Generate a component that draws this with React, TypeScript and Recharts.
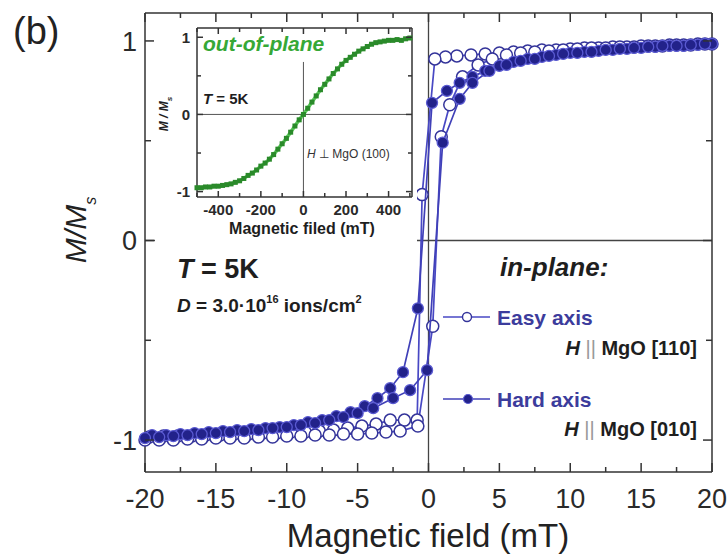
import React from 'react'
import { ScatterChart, Scatter, XAxis, YAxis, ReferenceLine } from 'recharts'

const FONT = '"Liberation Sans", Arial, Helvetica, sans-serif'

// main loops: [field (mT), M/Ms], descending branch then ascending branch
const easyDown: [number, number][] = [
  [20, 0.985], [19, 0.985], [18, 0.98], [17, 0.98], [16, 0.975], [15, 0.975], [14, 0.97],
  [13, 0.97], [12, 0.965], [11, 0.965], [10, 0.96], [9, 0.955], [8, 0.955], [7, 0.95],
  [6, 0.945], [5, 0.94], [4, 0.935], [3, 0.93], [2, 0.925], [1.2, 0.92], [0.45, 0.91],
  [-0.45, 0.23], [-0.8, -0.9], [-1.7, -0.9], [-2.7, -0.9], [-3.7, -0.92], [-4.7, -0.93],
  [-5.7, -0.94], [-6.7, -0.95], [-7.7, -0.955], [-8.7, -0.96], [-9.7, -0.96], [-10.7, -0.965],
  [-11.7, -0.965], [-12.7, -0.97], [-13.7, -0.97], [-14.7, -0.975], [-15.7, -0.975],
  [-16.7, -0.98], [-17.7, -0.98], [-18.7, -0.98], [-19.7, -0.985],
]
const easyUp: [number, number][] = [
  [-20, -1.0], [-19, -1.0], [-18, -1.0], [-17, -0.995], [-16, -0.995], [-15, -0.99],
  [-14, -0.99], [-13, -0.99], [-12, -0.985], [-11, -0.985], [-10, -0.98], [-9, -0.98],
  [-8, -0.975], [-7, -0.975], [-6, -0.97], [-5, -0.97], [-4, -0.965], [-3, -0.96],
  [-2, -0.955], [-0.75, -0.93], [0.3, -0.43], [0.9, 0.52], [1.5, 0.68], [2.4, 0.82],
  [3.5, 0.88], [4.5, 0.91], [5.5, 0.93], [6.5, 0.94], [7.5, 0.945], [8.5, 0.95], [9.5, 0.955],
  [10.5, 0.96], [11.5, 0.965], [12.5, 0.965], [13.5, 0.97], [14.5, 0.97], [15.5, 0.975],
  [16.5, 0.975], [17.5, 0.98], [18.5, 0.98], [19.5, 0.985],
]
const hardDown: [number, number][] = [
  [20, 0.985], [19, 0.98], [18, 0.975], [17, 0.975], [16, 0.97], [15, 0.965], [14, 0.96],
  [13, 0.955], [12, 0.95], [11, 0.945], [10, 0.94], [9, 0.93], [8, 0.92], [7, 0.91],
  [6, 0.895], [5, 0.875], [4, 0.85], [3.1, 0.82], [2.2, 0.79], [1.3, 0.75], [0.25, 0.69],
  [-0.75, -0.34], [-1.8, -0.66], [-2.7, -0.74], [-3.6, -0.79], [-4.5, -0.83], [-5.5, -0.86],
  [-6.5, -0.88], [-7.5, -0.9], [-8.5, -0.91], [-9.5, -0.925], [-10.5, -0.935], [-11.5, -0.94],
  [-12.5, -0.945], [-13.5, -0.95], [-14.5, -0.955], [-15.5, -0.96], [-16.5, -0.965],
  [-17.5, -0.97], [-18.5, -0.975], [-19.5, -0.975],
]
const hardUp: [number, number][] = [
  [-20, -0.99], [-19, -0.985], [-18, -0.98], [-17, -0.975], [-16, -0.97], [-15, -0.965],
  [-14, -0.96], [-13, -0.955], [-12, -0.95], [-11, -0.94], [-10, -0.935], [-9, -0.925],
  [-8, -0.915], [-7, -0.9], [-6, -0.885], [-5, -0.865], [-3.9, -0.84], [-2.5, -0.79],
  [-1.3, -0.75], [-0.1, -0.65], [1.0, 0.49], [2.2, 0.71], [3.1, 0.79], [4.3, 0.85],
  [5.5, 0.88], [6.5, 0.9], [7.5, 0.91], [8.5, 0.925], [9.5, 0.935], [10.5, 0.94],
  [11.5, 0.945], [12.5, 0.955], [13.5, 0.96], [14.5, 0.965], [15.5, 0.97], [16.5, 0.975],
  [17.5, 0.975], [18.5, 0.98], [19.5, 0.985],
]

// inset: out-of-plane loop
const outOfPlane: [number, number][] = [
  [-500, -0.95], [-480, -0.95], [-460, -0.94], [-440, -0.94], [-420, -0.93], [-400, -0.93],
  [-380, -0.92], [-360, -0.91], [-340, -0.9], [-320, -0.88], [-300, -0.86], [-280, -0.83],
  [-260, -0.79], [-240, -0.76], [-220, -0.72], [-200, -0.67], [-180, -0.63], [-160, -0.58],
  [-140, -0.52], [-120, -0.45], [-100, -0.38], [-80, -0.31], [-60, -0.23], [-40, -0.15],
  [-20, -0.07], [0, 0.0], [20, 0.08], [40, 0.16], [60, 0.24], [80, 0.32], [100, 0.39],
  [120, 0.46], [140, 0.53], [160, 0.59], [180, 0.65], [200, 0.7], [220, 0.74], [240, 0.78],
  [260, 0.82], [280, 0.85], [300, 0.88], [320, 0.91], [340, 0.93], [360, 0.94], [380, 0.95],
  [400, 0.96], [420, 0.96], [440, 0.97], [460, 0.96], [480, 0.98], [500, 0.99],
]

const mainXTicks = [-20, -17.5, -15, -12.5, -10, -7.5, -5, -2.5, 0, 2.5, 5, 7.5, 10, 12.5, 15, 17.5, 20]
const mainYTicks = [-1, -0.5, 0, 0.5, 1]
const insetXTicks = [-500, -400, -300, -200, -100, 0, 100, 200, 300, 400, 500]
const insetYTicks = [-1, -0.5, 0, 0.5, 1]

const toPts = (arr: [number, number][]) => arr.map(([h, m]) => ({ h, m }))
const easyData = toPts([...easyDown, ...easyUp])
const hardData = toPts([...hardDown, ...hardUp])
const insetData = toPts(outOfPlane)

type Side = 'bottom' | 'top' | 'left' | 'right'
const tick = (side: Side, step: number, len: number, minor: number, label?: { size: number; off: number; weight: number }) =>
  (p: any) => {
    const { x, y, payload } = p
    const v = payload.value
    const big = Math.abs(v / step - Math.round(v / step)) < 1e-6
    const L = big ? len : minor
    const ln = { stroke: '#333', strokeWidth: 1.5 }
    let line = null
    let txt = null
    if (side === 'bottom') line = <line x1={x} x2={x} y1={y} y2={y - L} {...ln} />
    if (side === 'top') line = <line x1={x} x2={x} y1={y} y2={y + L} {...ln} />
    if (side === 'left') line = <line x1={x} x2={x + L} y1={y} y2={y} {...ln} />
    if (side === 'right') line = <line x1={x} x2={x - L} y1={y} y2={y} {...ln} />
    if (label && big) {
      const common = { fontFamily: FONT, fontSize: label.size, fontWeight: label.weight, fill: '#2a2a2a' }
      if (side === 'bottom') txt = <text x={x} y={y + label.off} textAnchor="middle" {...common}>{String(v)}</text>
      if (side === 'left') txt = <text x={x - label.off} y={y} dy="0.36em" textAnchor="end" {...common}>{String(v)}</text>
    }
    return <g>{line}{txt}</g>
  }

const OpenDot = (p: any) => <circle cx={p.cx} cy={p.cy} r={6} fill="#fff" stroke="#34349a" strokeWidth={1.5} />
const FilledDot = (p: any) => <circle cx={p.cx} cy={p.cy} r={5.5} fill="#22228a" stroke="#5a5ad2" strokeWidth={1.3} />
const GreenSq = (p: any) => <rect x={p.cx - 2.5} y={p.cy - 2.5} width={5} height={5} fill="#2a8a2a" />
const Nothing = () => <g />

const axisLine = { stroke: '#333', strokeWidth: 1.5 }

function MainChart() {
  return (
    <ScatterChart width={728} height={560} margin={{ top: 12, right: 15, bottom: 48, left: 85 }}>
      <XAxis xAxisId="b" type="number" dataKey="h" domain={[-20, 20]} ticks={mainXTicks} interval={0}
        height={40} axisLine={axisLine} tickLine={false} tickSize={0} tickMargin={0}
        tick={tick('bottom', 5, 9, 5, { size: 27, off: 36, weight: 400 })} />
      <XAxis xAxisId="t" orientation="top" type="number" dataKey="h" domain={[-20, 20]} ticks={mainXTicks}
        interval={0} height={1} axisLine={axisLine} tickLine={false} tickSize={0} tickMargin={0}
        tick={tick('top', 5, 9, 5)} />
      <YAxis yAxisId="l" type="number" dataKey="m" domain={[-1.16, 1.14]} ticks={mainYTicks} interval={0}
        width={60} axisLine={axisLine} tickLine={false} tickSize={0} tickMargin={0}
        tick={tick('left', 1, 9, 6, { size: 27, off: 8, weight: 400 })} />
      <YAxis yAxisId="r" orientation="right" type="number" dataKey="m" domain={[-1.16, 1.14]} ticks={mainYTicks}
        interval={0} width={1} axisLine={axisLine} tickLine={false} tickSize={0} tickMargin={0}
        tick={tick('right', 1, 9, 6)} />
      <ReferenceLine xAxisId="b" yAxisId="l" y={0} stroke="#444" strokeWidth={1.3} />
      <ReferenceLine xAxisId="b" yAxisId="l" x={0} stroke="#444" strokeWidth={1.3} />
      <Scatter xAxisId="t" yAxisId="r" data={easyData} shape={Nothing} isAnimationActive={false} />
      <Scatter xAxisId="b" yAxisId="l" data={easyData} line={{ stroke: '#4848c4', strokeWidth: 1.7 }}
        lineType="joint" shape={OpenDot} isAnimationActive={false} />
      <Scatter xAxisId="b" yAxisId="l" data={hardData} line={{ stroke: '#4040b8', strokeWidth: 1.7 }}
        lineType="joint" shape={FilledDot} isAnimationActive={false} />
    </ScatterChart>
  )
}

function InsetChart() {
  return (
    <ScatterChart width={262} height={220} margin={{ top: 4, right: 4, bottom: 45, left: 41 }}>
      <XAxis xAxisId="b" type="number" dataKey="h" domain={[-500, 510]} ticks={insetXTicks} interval={0}
        height={1} axisLine={axisLine} tickLine={false} tickSize={0} tickMargin={0}
        tick={tick('bottom', 200, 6, 4, { size: 15, off: 18, weight: 700 })} />
      <XAxis xAxisId="t" orientation="top" type="number" dataKey="h" domain={[-500, 510]} ticks={insetXTicks}
        interval={0} height={1} axisLine={axisLine} tickLine={false} tickSize={0} tickMargin={0}
        tick={tick('top', 200, 6, 4)} />
      <YAxis yAxisId="l" type="number" dataKey="m" domain={[-1.07, 1.12]} ticks={insetYTicks} interval={0}
        width={1} axisLine={axisLine} tickLine={false} tickSize={0} tickMargin={0}
        tick={tick('left', 1, 6, 4, { size: 15, off: 7, weight: 700 })} />
      <YAxis yAxisId="r" orientation="right" type="number" dataKey="m" domain={[-1.07, 1.12]} ticks={insetYTicks}
        interval={0} width={1} axisLine={axisLine} tickLine={false} tickSize={0} tickMargin={0}
        tick={tick('right', 1, 6, 4)} />
      <ReferenceLine xAxisId="b" yAxisId="l" y={0} stroke="#555" strokeWidth={1} />
      <ReferenceLine xAxisId="b" yAxisId="l" segment={[{ x: 0, y: -1.07 }, { x: 0, y: 0.68 }]} stroke="#555" strokeWidth={1} />
      <Scatter xAxisId="t" yAxisId="r" data={insetData} shape={Nothing} isAnimationActive={false} />
      <Scatter xAxisId="b" yAxisId="l" data={insetData} line={{ stroke: '#5ccc5c', strokeWidth: 3.5 }}
        lineType="joint" shape={GreenSq} isAnimationActive={false} />
    </ScatterChart>
  )
}

function Annotations() {
  const t = { fontFamily: FONT }
  return (
    <svg width={728} height={560} style={{ position: 'absolute', left: 0, top: 0, pointerEvents: 'none' }}>
      <text x={13} y={44} fontSize={38} fill="#222" {...t}>(b)</text>
      <text transform="translate(86,230) rotate(-90)" textAnchor="middle" fontSize={30} fontStyle="italic" fill="#222" {...t}>
        M/M<tspan fontSize={16} dy={10}>s</tspan>
      </text>
      <text x={428} y={547} textAnchor="middle" fontSize={33} fill="#222" {...t}>Magnetic field (mT)</text>

      <text x={177} y={278} fontSize={27} fontWeight={700} fill="#1e1e1e" {...t}>
        <tspan fontStyle="italic">T</tspan> = 5K
      </text>
      <text x={177} y={312} fontSize={19} fontWeight={700} fill="#1e1e1e" {...t}>
        <tspan fontStyle="italic">D</tspan> = 3.0·10<tspan fontSize={11} dy={-9}>16</tspan>
        <tspan dy={9}> ions/cm</tspan><tspan fontSize={11} dy={-9}>2</tspan>
      </text>

      <text x={500} y={276} fontSize={26} fontWeight={700} fontStyle="italic" fill="#1e1e1e" {...t}>in-plane:</text>
      <line x1={443} x2={490} y1={317} y2={317} stroke="#4848c4" strokeWidth={1.4} />
      <circle cx={467} cy={317} r={4.5} fill="#fff" stroke="#34349a" strokeWidth={1.4} />
      <text x={497} y={317} dy="0.36em" fontSize={21} fontWeight={700} fill="#3c3c9c" {...t}>Easy axis</text>
      <text x={697} y={355} textAnchor="end" fontSize={20} fontWeight={700} fill="#1e1e1e" {...t}>
        <tspan fontStyle="italic">H</tspan><tspan fontWeight={300} fill="#999"> ||</tspan> MgO [110]
      </text>
      <line x1={443} x2={490} y1={399} y2={399} stroke="#4040b8" strokeWidth={1.4} />
      <circle cx={468} cy={399} r={4.5} fill="#22228a" stroke="#5a5ad2" strokeWidth={1.2} />
      <text x={497} y={399} dy="0.36em" fontSize={21} fontWeight={700} fill="#3c3c9c" {...t}>Hard axis</text>
      <text x={697} y={436} textAnchor="end" fontSize={20} fontWeight={700} fill="#1e1e1e" {...t}>
        <tspan fontStyle="italic">H</tspan><tspan fontWeight={300} fill="#999"> ||</tspan> MgO [010]
      </text>

      <text x={203} y={51} fontSize={21} fontWeight={700} fontStyle="italic" fill="#36a836" {...t}>out-of-plane</text>
      <text x={203} y={104} fontSize={15} fontWeight={700} fill="#1e1e1e" {...t}>
        <tspan fontStyle="italic">T</tspan> = 5K
      </text>
      <text x={307} y={158} fontSize={12} fill="#333" {...t}>
        <tspan fontStyle="italic">H</tspan> ⊥ MgO (100)
      </text>
      <text x={302} y={234} textAnchor="middle" fontSize={16} fontWeight={700} fill="#1e1e1e" {...t}>Magnetic filed (mT)</text>
      <text transform="translate(168,114) rotate(-90)" textAnchor="middle" fontSize={12} fontWeight={700} fontStyle="italic" fill="#1e1e1e" {...t}>
        M / M<tspan fontSize={8} dy={4}>s</tspan>
      </text>
    </svg>
  )
}

export default function App() {
  return (
    <div style={{ position: 'absolute', left: 0, top: 0, width: 728, height: 560, background: '#fff', overflow: 'hidden' }}>
      <div style={{ position: 'absolute', left: 0, top: 0 }}>
        <MainChart />
      </div>
      <div style={{ position: 'absolute', left: 155, top: 23, width: 262, height: 220, background: '#fff' }}>
        <InsetChart />
      </div>
      <Annotations />
    </div>
  )
}
